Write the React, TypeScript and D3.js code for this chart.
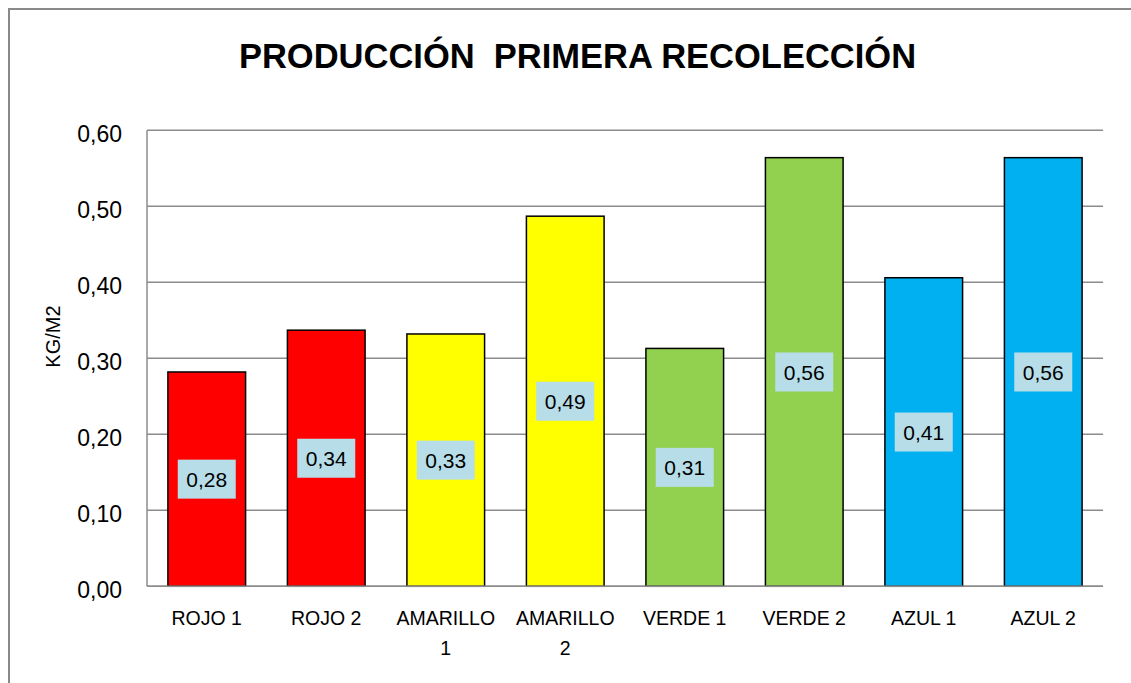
import React from "react";
import * as d3 from "d3";

// valores (kg/m2)
const categorias = ["ROJO 1", "ROJO 2", "AMARILLO 1", "AMARILLO 2", "VERDE 1", "VERDE 2", "AZUL 1", "AZUL 2"];
const valores = [0.282, 0.337, 0.332, 0.487, 0.313, 0.564, 0.406, 0.564];
const colores = ["#FF0000", "#FF0000", "#FFFF00", "#FFFF00", "#92D050", "#92D050", "#00B0F0", "#00B0F0"];
const ticksY = [0, 0.1, 0.2, 0.3, 0.4, 0.5, 0.6];

const titulo = "PRODUCCIÓN  PRIMERA RECOLECCIÓN";
const tituloEje = "KG/M2";

// el marco del gráfico sigue más allá de la ventana
const width = 1123;
const height = 675;
const margin = { top: 122.3, right: 28, bottom: 96.7, left: 139 };
const font = "'Liberation Sans', Arial, sans-serif";

const fmt = (v: number) => v.toFixed(2).replace(".", ",");

// parte la etiqueta en dos líneas si es larga
const partir = (s: string) => {
  if (s.length <= 8) return [s];
  const i = s.lastIndexOf(" ");
  return [s.slice(0, i), s.slice(i + 1)];
};

const App = () => {
  const x = d3
    .scaleBand()
    .domain(categorias)
    .range([margin.left, width - margin.right])
    .paddingInner(0.35)
    .paddingOuter(0.175);

  const y = d3
    .scaleLinear()
    .domain([0, 0.6])
    .range([height - margin.bottom, margin.top]);

  const x0 = margin.left;
  const x1 = width - margin.right;

  return (
    <svg
      width={width + 100}
      height={height + 100}
      style={{ display: "block", position: "fixed", left: 8, top: 8, fontFamily: font }}
    >
      <rect x={1} y={1} width={width + 60} height={height + 60} fill="#fff" stroke="#898989" strokeWidth={2} />

      <text x={569.5} y={60.3} textAnchor="middle" fontSize={34.5} fontWeight="bold" fill="#000" style={{ whiteSpace: "pre" }}>
        {titulo}
      </text>

      {/* rejilla */}
      {ticksY.map((t) => (
        <g key={t}>
          <line x1={x0} x2={x1} y1={y(t)} y2={y(t)} stroke="#8c8c8c" strokeWidth={1.5} />
          <text x={114} y={y(t) + 12} textAnchor="end" fontSize={23} fill="#000">
            {fmt(t)}
          </text>
        </g>
      ))}
      <line x1={x0} x2={x0} y1={y(0.6)} y2={y(0)} stroke="#8c8c8c" strokeWidth={1.5} />

      <text
        transform={`translate(52,328.5) rotate(-90)`}
        textAnchor="middle"
        fontSize={20}
        fill="#000"
      >
        {tituloEje}
      </text>

      {/* barras */}
      {categorias.map((c, i) => (
        <rect
          key={c}
          x={x(c)}
          y={y(valores[i])}
          width={x.bandwidth()}
          height={y(0) - y(valores[i])}
          fill={colores[i]}
          stroke="#000"
          strokeWidth={1.5}
        />
      ))}
      <line x1={x0} x2={x1} y1={y(0)} y2={y(0)} stroke="#8c8c8c" strokeWidth={1.5} />

      {/* etiquetas de datos */}
      {categorias.map((c, i) => {
        const cx = (x(c) as number) + x.bandwidth() / 2;
        const cy = (y(valores[i]) + y(0)) / 2;
        return (
          <g key={c}>
            <rect x={cx - 29} y={cy - 19.5} width={58} height={39} fill="#B7DEE8" />
            <text x={cx} y={cy + 8} textAnchor="middle" fontSize={21} fill="#000">
              {fmt(valores[i])}
            </text>
          </g>
        );
      })}

      {/* categorías */}
      {categorias.map((c) => {
        const cx = (x(c) as number) + x.bandwidth() / 2;
        return (
          <text key={c} x={cx} y={617} textAnchor="middle" fontSize={19.5} fill="#000">
            {partir(c).map((l, j) => (
              <tspan key={j} x={cx} dy={j === 0 ? 0 : 30}>
                {l}
              </tspan>
            ))}
          </text>
        );
      })}
    </svg>
  );
};

export default App;
